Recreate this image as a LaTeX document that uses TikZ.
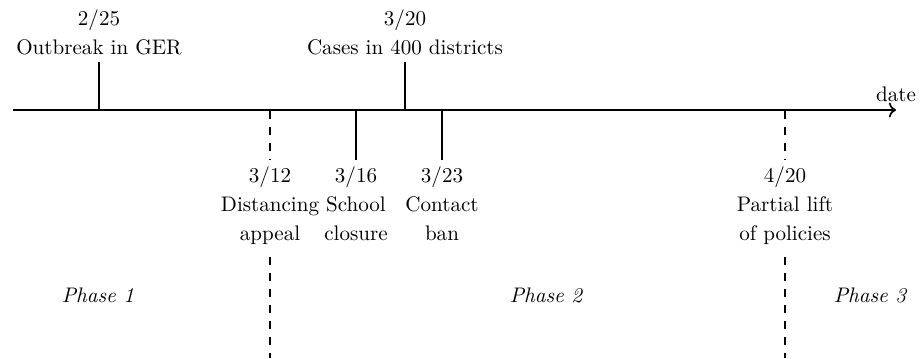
\documentclass[tikz,border=0pt]{standalone}
\usetikzlibrary{arrows.meta}
\begin{document}
\begin{tikzpicture}[x=0.4746pt,y=-0.4746pt,
  axis/.style={line width=0.8pt,->},
  tickline/.style={line width=0.7pt},
  phaseline/.style={line width=0.7pt,dash pattern=on 3.6pt off 4pt},
  lbl/.style={align=center,inner sep=0pt,anchor=north},
  phaselbl/.style={font=\itshape,anchor=base,inner sep=0pt}]
\useasboundingbox (0,0) rectangle (923,358);
% axis
\coordinate (a0) at (13,110);
\coordinate (a1) at (896,110);
\draw[axis] (a0) -- (a1) node[above] (date) {date};
% events above the axis
\coordinate (b225) at (99,110);  \coordinate (u225) at (99,62);
\coordinate (b320) at (405,110); \coordinate (u320) at (405,62);
\draw[tickline] (b225) -- (u225);
\draw[tickline] (b320) -- (u320);
\node[lbl] (l225) at (99,9) {2/25\\[1.9pt]Outbreak in GER};
\node[lbl] (l320) at (405,9) {3/20\\[1.9pt]Cases in 400 districts};
% events below the axis
\coordinate (b312) at (270,111); \coordinate (d312) at (270,160);
\coordinate (e312) at (270,257); \coordinate (f312) at (270,358);
\coordinate (b316) at (356,110); \coordinate (d316) at (356,160);
\coordinate (b323) at (442,110); \coordinate (d323) at (442,160);
\coordinate (b420) at (785,111); \coordinate (d420) at (785,160);
\coordinate (e420) at (785,257); \coordinate (f420) at (785,358);
\draw[phaseline] (b312) -- (d312);
\draw[phaseline] (e312) -- (f312);
\draw[tickline] (b316) -- (d316);
\draw[tickline] (b323) -- (d323);
\draw[phaseline] (b420) -- (d420);
\draw[phaseline] (e420) -- (f420);
\node[lbl] (l312) at (270,166) {3/12\\[1.9pt]Distancing\\[1.9pt]appeal};
\node[lbl] (l316) at (356,166) {3/16\\[1.9pt]School\\[1.9pt]closure};
\node[lbl] (l323) at (442,166) {3/23\\[1.9pt]Contact\\[1.9pt]ban};
\node[lbl] (l420) at (785,166) {4/20\\[1.9pt]Partial lift\\[1.9pt]of policies};
% phases
\node[phaselbl] (p1) at (98,302) {Phase 1};
\node[phaselbl] (p2) at (546,302) {Phase 2};
\node[phaselbl] (p3) at (870,302) {Phase 3};
\end{tikzpicture}
\end{document}
